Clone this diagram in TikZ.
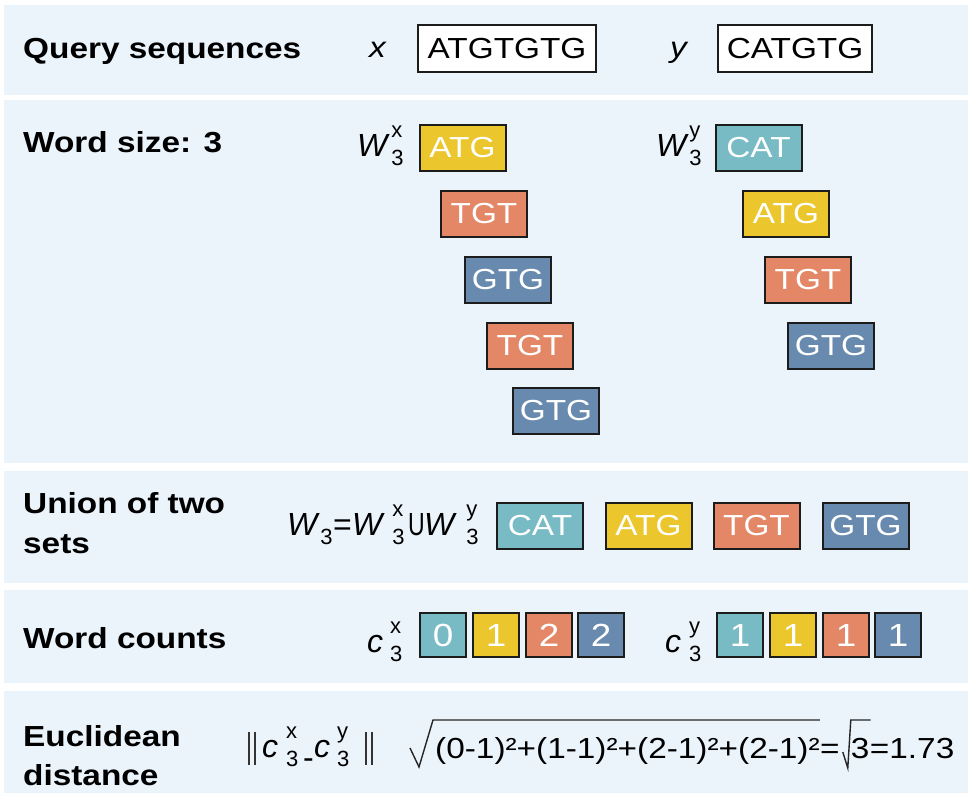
\documentclass[tikz,border=0pt]{standalone}
\usepackage{fontspec}
\usepackage{graphicx}
\setmainfont{Liberation Sans}[FakeStretch=1.15]
\newfontfamily\symfont{Liberation Sans}
\usetikzlibrary{calc}

\definecolor{panelbg}{RGB}{235,243,251}
\definecolor{wteal}{RGB}{120,187,196}
\definecolor{wyellow}{RGB}{235,198,45}
\definecolor{worange}{RGB}{227,135,102}
\definecolor{wblue}{RGB}{104,138,174}
\definecolor{edgecol}{RGB}{28,28,28}

% italic symbol, small upright indices
\newcommand{\bigsym}[1]{{\symfont\fontsize{32}{32}\selectfont\itshape #1}}
\newcommand{\upsym}[1]{{\symfont\fontsize{32}{32}\selectfont #1}}
\newcommand{\smallsym}[1]{{\symfont\fontsize{22}{22}\selectfont #1}}
% symbol with stacked subscript (#3) and superscript (#4); #1 = gap
\newcommand{\symss}[4][4pt]{\bigsym{#2}\kern#1\rlap{\raisebox{19pt}{\smallsym{#4}}}\raisebox{-9pt}{\smallsym{#3}}}
\newcommand{\symsub}[3][4pt]{\bigsym{#2}\kern#1\raisebox{-9pt}{\smallsym{#3}}}

\tikzset{
  maintext/.style={font=\fontsize{29}{34}\selectfont},
  rowlabel/.style={anchor=base west, inner sep=0, font=\fontsize{29}{34}\selectfont\bfseries},
  sym/.style={anchor=base west, inner sep=0},
  seqbox/.style={draw=edgecol, line width=2pt, fill=white, minimum height=47pt, inner sep=0,
                 font=\fontsize{29}{34}\selectfont},
  wordbox/.style={draw=edgecol, line width=2pt, minimum width=86pt, minimum height=46pt, inner sep=0,
                  text=white, font=\fontsize{29}{34}\selectfont},
  countbox/.style={wordbox, minimum width=46pt, minimum height=44pt, font=\fontsize{32}{34}\selectfont},
  cat/.style={wordbox, fill=wteal},
  atg/.style={wordbox, fill=wyellow},
  tgt/.style={wordbox, fill=worange},
  gtg/.style={wordbox, fill=wblue},
  radical/.style={draw=black!85, line width=1.4pt, line join=miter},
  normbar/.style={draw=black!80, line width=1.3pt},
}

\begin{document}
\begin{tikzpicture}[x=1pt, y=-1pt]
\useasboundingbox (0,0) rectangle (968,794);
\fill[white] (0,0) rectangle (968,794);

% panels
\fill[panelbg] (4,5)   rectangle (968,95);
\fill[panelbg] (4,100) rectangle (968,463);
\fill[panelbg] (4,471) rectangle (968,583);
\fill[panelbg] (4,590) rectangle (968,683);
\fill[panelbg] (4,691) rectangle (968,793);

% row labels
\node[rowlabel] (lblQuery) at (23,59)  {Query sequences};
\node[rowlabel] (lblWord)  at (23,153) {Word size: 3};
\node[rowlabel] (lblUnionA) at (23,513) {Union of two};
\node[rowlabel] (lblUnionB) at (23,553) {sets};
\node[rowlabel] (lblCounts) at (23,648) {Word counts};
\node[rowlabel] (lblEuclA) at (23,746) {Euclidean};
\node[rowlabel] (lblEuclB) at (23,785) {distance};

% query sequences
\node[sym, maintext] (qx) at (369,58) {\itshape x};
\node[seqbox, minimum width=178pt] (seqx) at (507,48.5) {ATGTGTG};
\node[sym, maintext] (qy) at (670,58) {\itshape y};
\node[seqbox, minimum width=154pt] (seqy) at (795,48.5) {CATGTG};

% words of size 3
\node[sym] (wx) at (357,157) {\symss[4pt]{W}{3}{x}};
\node[atg] (wx1) at (462.5,148) {ATG};
\node[tgt] (wx2) at (484,214)   {TGT};
\node[gtg] (wx3) at (508,280)   {GTG};
\node[tgt] (wx4) at (530,345.5) {TGT};
\node[gtg] (wx5) at (556,411)   {GTG};

\node[sym] (wy) at (656,157) {\symss[3pt]{W}{3}{y}};
\node[cat] (wy1) at (758.5,148) {CAT};
\node[atg] (wy2) at (786,214)   {ATG};
\node[tgt] (wy3) at (808,280)   {TGT};
\node[gtg] (wy4) at (831,345.5) {GTG};

% union of the two word sets
\node[sym] (uW)  at (287,535) {\symsub[3pt]{W}{3}};
\node[sym] (ueq) at (333,535) {\upsym{=}};
\node[sym] (uWx) at (352,535) {\symss[10pt]{W}{3}{x}};
\node[sym] (uU)  at (408,535) {\scalebox{0.72}[1]{\upsym{U}}};
\node[sym] (uWy) at (424,535) {\symss[12pt]{W}{3}{y}};
\node[cat] (u1) at (540,525.5)   {CAT};
\node[atg] (u2) at (648.5,525.5) {ATG};
\node[tgt] (u3) at (756.5,525.5) {TGT};
\node[gtg] (u4) at (865.5,525.5) {GTG};

% word counts
\node[sym] (cx) at (367,652) {\symss[7pt]{c}{3}{x}};
\node[countbox, fill=wteal]   (cx1) at (443,635) {0};
\node[countbox, fill=wyellow] (cx2) at (496,635) {1};
\node[countbox, fill=worange] (cx3) at (549,635) {2};
\node[countbox, fill=wblue]   (cx4) at (601,635) {2};

\node[sym] (cy) at (665,652) {\symss[8pt]{c}{3}{y}};
\node[countbox, fill=wteal]   (cy1) at (740,635) {1};
\node[countbox, fill=wyellow] (cy2) at (793,635) {1};
\node[countbox, fill=worange] (cy3) at (846,635) {1};
\node[countbox, fill=wblue]   (cy4) at (898,635) {1};

% Euclidean distance: norm of the difference
\draw[normbar] (249,732) -- (249,765) (255,732) -- (255,765);
\node[sym] (ncx) at (262,757) {\symss[8pt]{c}{3}{x}};
\node[sym] (nminus) at (303,768) {\upsym{-}};
\node[sym] (ncy) at (314,757) {\symss[7pt]{c}{3}{y}};
\draw[normbar] (366,732) -- (366,765) (372,732) -- (372,765);

% square root expression
\node[sym, maintext] (rad) at (435,758) {(0-1)²+(1-1)²+(2-1)²+(2-1)²};
\draw[radical] ($(rad.base west)+(-25,-10)$) -- ($(rad.base west)+(-16,9)$)
  -- ($(rad.base west)+(-2,-38)$) -- ($(rad.base east)+(0,-38)$);
\node[sym, maintext] (req) at (rad.base east) {=};
\node[sym, maintext] (three) at ($(req.base east)+(11,0)$) {3};
\draw[radical] ($(req.base east)+(3,-6)$) -- ($(req.base east)+(8,10)$)
  -- ($(req.base east)+(11,-38)$) -- ($(three.base east)+(1,-38)$);
\node[sym, maintext] (result) at (three.base east) {=1.73};
\end{tikzpicture}
\end{document}
